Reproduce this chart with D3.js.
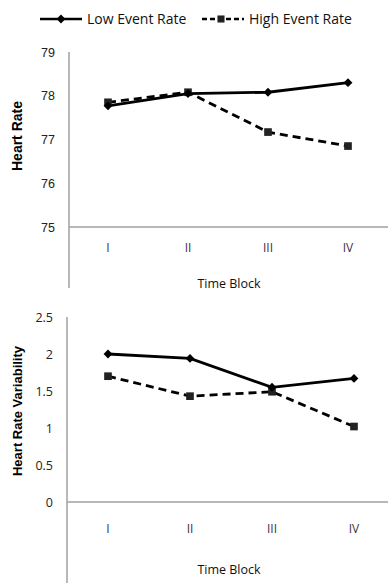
<!DOCTYPE html>
<html>
<head>
<meta charset="utf-8">
<script src="https://cdn.jsdelivr.net/npm/d3@7"></script>
<style>
  body { margin: 0; background: #fff; }
  svg { display: block; }
</style>
</head>
<body>
<div class="canvas"></div>
<script>
const blocks = ['I', 'II', 'III', 'IV']
const seriesNames = ['Low Event Rate', 'High Event Rate']

const hrLow = [77.77, 78.05, 78.08, 78.3]
const hrHigh = [77.85, 78.08, 77.17, 76.85]
const hrTicks = [75, 76, 77, 78, 79]

const hrvLow = [2.0, 1.94, 1.55, 1.67]
const hrvHigh = [1.7, 1.43, 1.49, 1.02]
const hrvTicks = [0, 0.5, 1, 1.5, 2, 2.5]

const svg = d3.select('.canvas')
  .append('svg')
  .attr('width', 388)
  .attr('height', 583)

// legend
const legend = svg.append('g')
seriesNames.forEach((name, i) => {
  const x0 = i === 0 ? 40 : 202
  const g = legend.append('g').attr('transform', `translate(${x0}, 19)`)
  g.append('line')
    .attr('x1', 0).attr('x2', 42)
    .attr('stroke', '#000')
    .attr('stroke-width', 2.4)
    .attr('stroke-dasharray', i === 0 ? null : '5,3')
  g.append('path')
    .attr('transform', `translate(${i === 0 ? 21 : 19}, 0)`)
    .attr('d', d3.symbol(i === 0 ? d3.symbolDiamond2 : d3.symbolSquare2, i === 0 ? 50 : 64)())
    .attr('fill', i === 0 ? '#000' : '#222')
  g.append('text')
    .attr('x', 47)
    .attr('y', 5)
    .attr('font-family', 'Open Sans, sans-serif')
    .attr('font-size', 14)
    .attr('fill', '#111')
    .text(name)
})

function drawPanel(opts) {
  const { low, high, ticks, domain, top, axisY, lineBottom, left, xs, title, titleY, titleSize, tickFont, xTitleY, catY } = opts
  const g = svg.append('g')

  const y = d3.scaleLinear().domain(domain).range([axisY, top])
  const x = d3.scalePoint().domain(blocks).range(xs)

  // axis lines
  g.append('line')
    .attr('x1', left).attr('x2', left)
    .attr('y1', top).attr('y2', lineBottom)
    .attr('stroke', '#a0a0a0').attr('stroke-width', 1.5)
  g.append('line')
    .attr('x1', left).attr('x2', 388)
    .attr('y1', axisY).attr('y2', axisY)
    .attr('stroke', '#a0a0a0').attr('stroke-width', 1.5)

  // y tick labels
  g.selectAll('text.ytick').data(ticks).enter()
    .append('text')
    .attr('class', 'ytick')
    .attr('x', left - 14)
    .attr('y', d => y(d) + 4.5)
    .attr('text-anchor', 'end')
    .attr('font-family', tickFont)
    .attr('font-size', 12.5)
    .attr('fill', '#222')
    .text(d => d)

  // category labels
  g.selectAll('text.cat').data(blocks).enter()
    .append('text')
    .attr('class', 'cat')
    .attr('x', d => x(d))
    .attr('y', catY)
    .attr('text-anchor', 'middle')
    .attr('font-family', 'Open Sans, sans-serif')
    .attr('font-size', 12)
    .attr('fill', '#3c2f48')
    .text(d => d)

  g.append('text')
    .attr('x', 229)
    .attr('y', xTitleY)
    .attr('text-anchor', 'middle')
    .attr('font-family', 'Open Sans, sans-serif')
    .attr('font-size', 12.5)
    .attr('fill', '#111')
    .text('Time Block')

  g.append('text')
    .attr('transform', `translate(22, ${titleY}) rotate(-90)`)
    .attr('text-anchor', 'middle')
    .attr('font-family', 'Liberation Sans, Arial, sans-serif')
    .attr('font-weight', 'bold')
    .attr('font-size', titleSize)
    .attr('fill', '#000')
    .text(title)

  const line = d3.line()
    .x((d, i) => x(blocks[i]))
    .y(d => y(d))

  g.append('path')
    .attr('d', line(high))
    .attr('fill', 'none')
    .attr('stroke', '#000')
    .attr('stroke-width', 2.8)
    .attr('stroke-dasharray', '8,5')
  g.append('path')
    .attr('d', line(low))
    .attr('fill', 'none')
    .attr('stroke', '#000')
    .attr('stroke-width', 2.8)

  g.selectAll('path.sq').data(high).enter()
    .append('path')
    .attr('class', 'sq')
    .attr('transform', (d, i) => `translate(${x(blocks[i])}, ${y(d)})`)
    .attr('d', d3.symbol(d3.symbolSquare2, 75)())
    .attr('fill', '#222')
  g.selectAll('path.dm').data(low).enter()
    .append('path')
    .attr('class', 'dm')
    .attr('transform', (d, i) => `translate(${x(blocks[i])}, ${y(d)})`)
    .attr('d', d3.symbol(d3.symbolDiamond2, 50)())
    .attr('fill', '#000')
}

drawPanel({
  low: hrLow, high: hrHigh, ticks: hrTicks, domain: [75, 79],
  top: 52, axisY: 227, lineBottom: 288, left: 69,
  xs: [108, 348], title: 'Heart Rate', titleY: 136, titleSize: 14,
  tickFont: 'Liberation Sans, Arial, sans-serif',
  xTitleY: 288, catY: 252
})

drawPanel({
  low: hrvLow, high: hrvHigh, ticks: hrvTicks, domain: [0, 2.5],
  top: 317, axisY: 502, lineBottom: 583, left: 67,
  xs: [108, 354], title: 'Heart Rate Variability', titleY: 411, titleSize: 13,
  tickFont: 'Open Sans, sans-serif',
  xTitleY: 574, catY: 533
})
</script>
</body>
</html>
